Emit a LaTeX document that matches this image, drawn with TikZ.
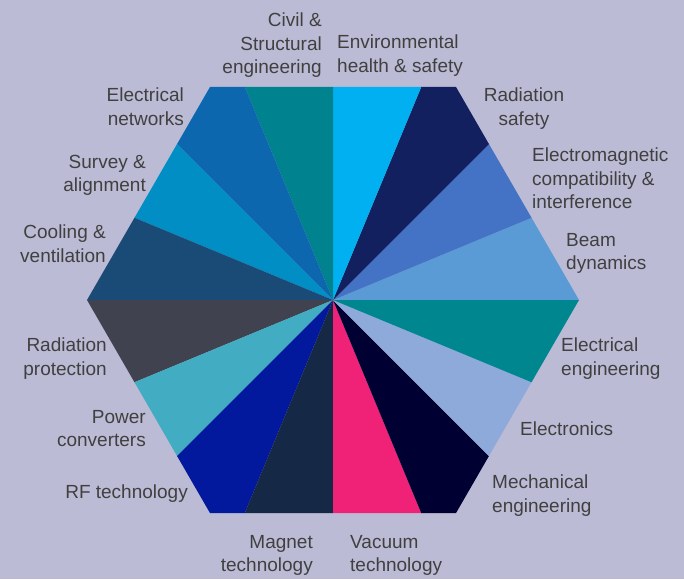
\documentclass[tikz,border=0pt]{standalone}
\usepackage{fontspec}
\setmainfont{Liberation Sans}
\usepackage{tikz}

\definecolor{backlav}{HTML}{BBBBD5}
\definecolor{labelgray}{HTML}{404040}
\definecolor{beamblue}{HTML}{5B9BD5}
\definecolor{emcblue}{HTML}{4472C4}
\definecolor{radnavy}{HTML}{13205F}
\definecolor{envcyan}{HTML}{00B0F0}
\definecolor{civilteal}{HTML}{00838F}
\definecolor{netblue}{HTML}{0D67AF}
\definecolor{surveyblue}{HTML}{008EC4}
\definecolor{coolblue}{HTML}{1A4B76}
\definecolor{protgray}{HTML}{40434F}
\definecolor{powercyan}{HTML}{42ADC2}
\definecolor{rfblue}{HTML}{03199D}
\definecolor{magnetnavy}{HTML}{152846}
\definecolor{vacpink}{HTML}{EF2277}
\definecolor{mechnavy}{HTML}{000033}
\definecolor{elecblue}{HTML}{8EAADB}
\definecolor{eengteal}{HTML}{00868F}

\tikzset{
  lbl/.style={font=\fontsize{19}{23.5}\selectfont, text=labelgray, inner sep=0pt},
  lblL/.style={lbl, anchor=north west, align=left},
  lblR/.style={lbl, anchor=north east, align=right},
}

\begin{document}
\begin{tikzpicture}[x=1pt,y=1pt]
\fill[backlav] (0,0) rectangle (684,-579);
\useasboundingbox (0,0) rectangle (684,-579);

% hexagon split into 16 equal slices
\begin{scope}[shift={(333,-300)}]
  \clip (0:246) -- (60:246) -- (120:246) -- (180:246) -- (240:246) -- (300:246) -- cycle;
  \foreach \col [count=\i from 0] in {beamblue,emcblue,radnavy,envcyan,civilteal,netblue,surveyblue,coolblue,protgray,powercyan,rfblue,magnetnavy,vacpink,mechnavy,elecblue,eengteal}
    \fill[\col] (0,0) -- (\i*22.5:400) -- (\i*22.5+22.5:400) -- cycle;
\end{scope}

% labels, going round clockwise from the top
\node[lblR] (civil) at (322,-13) {Civil \&\\Structural\\engineering};
\node[lblL] (env) at (337,-35) {Environmental\\health \& safety};
\node[lbl, anchor=north, align=center] (radsafe) at (524,-88) {Radiation\\safety};
\node[lblL] (emc) at (532,-148) {Electromagnetic\\compatibility \&\\interference};
\node[lblL] (beam) at (566,-233) {Beam\\dynamics};
\node[lblL] (eeng) at (561,-338) {Electrical\\engineering};
\node[lblL] (electronics) at (520,-422) {Electronics};
\node[lblL] (mech) at (492,-475) {Mechanical\\engineering};
\node[lblL] (vacuum) at (350,-535) {Vacuum\\technology};
\node[lblR] (magnet) at (313,-535) {Magnet\\technology};
\node[lblR] (rf) at (188,-485) {RF technology};
\node[lblR] (power) at (146,-410) {Power\\converters};
\node[lblR] (radprot) at (107,-338) {Radiation\\protection};
\node[lblR] (cooling) at (106,-225) {Cooling \&\\ventilation};
\node[lblR] (survey) at (146,-155) {Survey \&\\alignment};
\node[lblR] (networks) at (184,-88) {Electrical\\networks};
\end{tikzpicture}
\end{document}
